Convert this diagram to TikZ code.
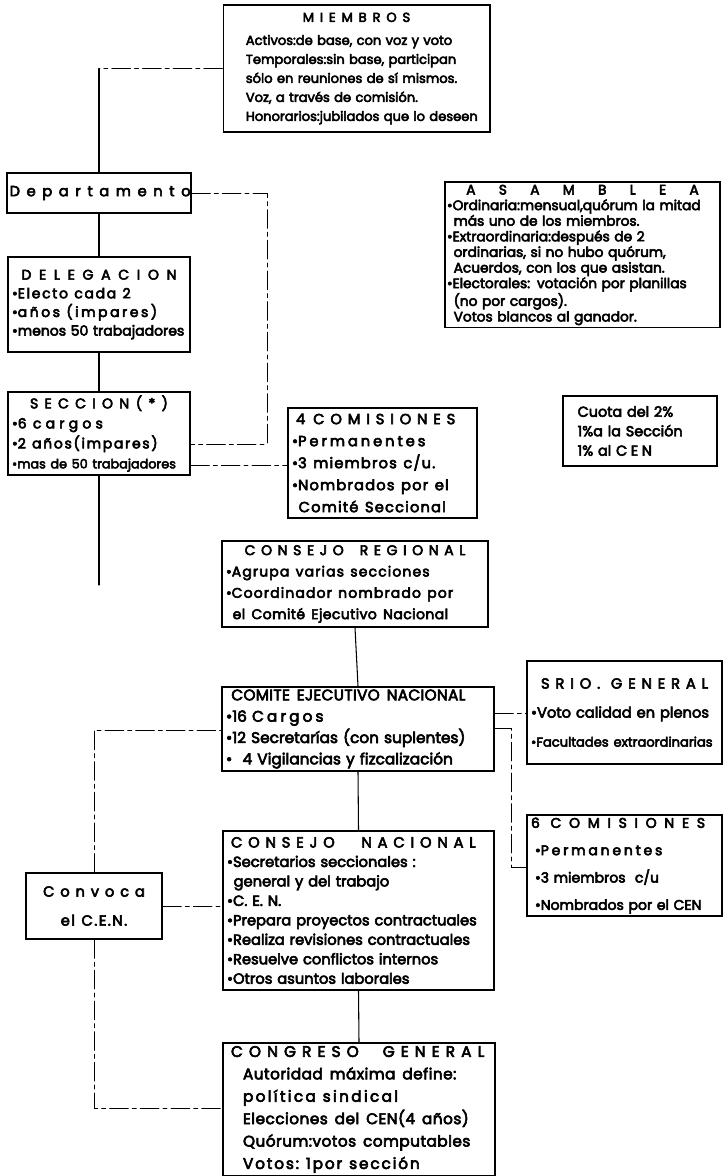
\documentclass[tikz,border=0pt]{standalone}
\usepackage{fontspec}
\setmainfont{Poppins}[FakeBold=4]
\usetikzlibrary{positioning}
\setlength\parindent{0pt}
\def\spend{}
\def\spword#1 #2\spend{#1\ifx\relax#2\relax\else\hspace{0.45em}\spword#2\spend\fi}
\newcommand\spaced[2]{{\addfontfeatures{LetterSpace=#1}\spword#2 \spend}}
\newcommand\boxtitle[2]{\makebox[\hsize][c]{\spaced{#1}{#2}}}
\newcommand\gap[1]{\kern#1}

\begin{document}
\begin{tikzpicture}[x=0.75pt, y=-0.75pt, line cap=round]
\tikzstyle{box}=[draw, rectangle, line width=1pt, inner xsep=3pt, inner ysep=2pt, align=left]
\tikzstyle{line}=[line width=0.8pt]
\tikzstyle{link}=[line width=0.6pt, dash pattern=on 14pt off 3pt on 3pt off 3pt]
\useasboundingbox (0,0) rectangle (725,1176);

\node[box, text width=194pt, minimum height=95.25pt, font=\fontsize{9.8}{14.25}\selectfont] (miem) at (356.5,68.5)
  {\boxtitle{45}{MIEMBROS}\\[3pt]
   \hspace*{14pt}Activos:de base, con voz y voto\\
   \hspace*{14pt}Temporales:sin base, participan\\
   \hspace*{14pt}sólo en reuniones de sí mismos.\\
   \hspace*{14pt}Voz, a través de comisión.\\
   \hspace*{14pt}Honorarios:jubilados que lo deseen};
\node[box, inner xsep=2pt, text width=134pt, minimum height=30pt, font=\fontsize{11}{13}\selectfont] (dep) at (99,193)
  {\spaced{45}{Departamento}};
\node[box, text width=130.5pt, minimum height=71.25pt, font=\fontsize{10.5}{14}\selectfont] (deleg) at (99,304.5)
  {\boxtitle{55}{DELEGACION}\\
   \textbullet\spaced{12}{Electo cada 2}\\
   \textbullet\spaced{18}{años (impares)}\\
   \textbullet menos 50 trabajadores};
\node[box, text width=130.5pt, minimum height=62.25pt, font=\fontsize{10.5}{15}\selectfont] (secc) at (99,433.5)
  {\boxtitle{45}{SECCION\gap{5pt}(*)}\\
   \textbullet\spaced{30}{6 cargos}\\
   \textbullet\spaced{12}{2 años(impares)}\\
   {\fontsize{9.6}{15}\selectfont\textbullet mas de 50 trabajadores}};
\node[box, text width=135.75pt, minimum height=82.5pt, font=\fontsize{11}{16.5}\selectfont] (com4) at (382.5,463)
  {\hspace*{3pt}\spaced{40}{4\gap{6pt}COMISIONES}\\
   \textbullet\spaced{20}{Permanentes}\\
   \textbullet\spaced{8}{3 miembros c/u.}\\
   \textbullet\spaced{8}{Nombrados por el}\\
   \hspace*{5pt}\spaced{8}{Comité Seccional}};
\node[box, inner xsep=1.5pt, text width=203.25pt, minimum height=108pt, font=\fontsize{10.3}{11.7}\selectfont] (asam) at (582.5,255)
  {\boxtitle{170}{ASAMBLEA}\\
   \mbox{\textbullet Ordinaria:mensual,quórum la mitad}\\
   \hspace*{5pt}más uno de los miembros.\\
   \textbullet Extraordinaria:después de 2\\
   \hspace*{5pt}ordinarias, si no hubo quórum,\\
   \hspace*{5pt}Acuerdos, con los que asistan.\\
   \mbox{\textbullet Electorales: votación por planillas}\\
   \hspace*{5pt}(no por cargos).\\
   \hspace*{5pt}Votos blancos al ganador.};
\node[box, text width=109.5pt, minimum height=52.5pt, font=\fontsize{10.8}{14.6}\selectfont] (cuota) at (640,431)
  {\hspace*{8pt}Cuota del 2\%\\
   \hspace*{8pt}1\%a la Sección\\
   \hspace*{8pt}1\% al \spaced{25}{CEN}};
\node[box, text width=193.5pt, minimum height=64.5pt, font=\fontsize{10.5}{16}\selectfont] (creg) at (355,584)
  {\boxtitle{40}{CONSEJO\gap{12pt}REGIONAL}\\
   \textbullet\spaced{8}{Agrupa varias secciones}\\
   \textbullet\spaced{8}{Coordinador nombrado por}\\
   \hspace*{5pt}\spaced{3}{el Comité Ejecutivo Nacional}};
\node[box, text width=198pt, minimum height=63pt, font=\fontsize{11.5}{16}\selectfont] (cen) at (358,729)
  {\hspace*{4pt}\spaced{2}{COMITE EJECUTIVO NACIONAL}\\
   \textbullet 16 \spaced{20}{Cargos}\\
   \textbullet 12 Secretarías (con suplentes)\\
   \textbullet\ \ 4 Vigilancias y fizcalización};
\node[box, text width=140.25pt, minimum height=77.25pt, font=\fontsize{11}{21.75}\selectfont] (srio) at (624.5,712.5)
  {\boxtitle{40}{SRIO.\gap{8pt}GENERAL}\\
   \textbullet Voto calidad en plenos\\
   {\fontsize{9.8}{21.75}\selectfont\textbullet Facultades extraordinarias}};
\node[box, text width=140.25pt, minimum height=75.75pt, font=\fontsize{10.5}{20.5}\selectfont] (com6) at (624.5,865.5)
  {\spaced{55}{6\gap{8pt}COMISIONES}\\
   \hspace*{3pt}\textbullet\spaced{20}{Permanentes}\\
   \hspace*{3pt}\textbullet 3 miembros\ \ c/u\\
   \hspace*{3pt}\textbullet Nombrados por el CEN};
\node[box, text width=197.25pt, minimum height=119.25pt, font=\fontsize{11}{14.6}\selectfont] (cnac) at (358.5,910.5)
  {\hspace*{3pt}\spaced{40}{CONSEJO\gap{20pt}NACIONAL}\\
   \textbullet Secretarios seccionales :\\
   \hspace*{5pt}general y del trabajo\\
   \textbullet C. E. N.\\
   \textbullet Prepara proyectos contractuales\\
   \textbullet Realiza revisiones contractuales\\
   \textbullet Resuelve conflictos internos\\
   \textbullet Otros asuntos laborales};
\node[box, align=center, text width=96pt, minimum height=49.5pt, font=\fontsize{11}{21.75}\selectfont] (conv) at (94,906)
  {\spaced{40}{Convoca}\\ \spaced{10}{el C.E.N.}};
\node[box, text width=198pt, minimum height=99.75pt, font=\fontsize{11.5}{16.8}\selectfont] (cong) at (359,1109.5)
  {\hspace*{3pt}\spaced{40}{CONGRESO\gap{18pt}GENERAL}\\
   \hspace*{12pt}\spaced{3}{Autoridad máxima define:}\\
   \hspace*{12pt}\spaced{15}{política sindical}\\
   \hspace*{12pt}\spaced{3}{Elecciones del CEN(4 años)}\\
   \hspace*{12pt}\spaced{3}{Quórum:votos computables}\\
   \hspace*{12pt}\spaced{12}{Votos: 1por sección}};

\coordinate (mturn) at (99,68.5);
\coordinate (secfree) at (99,585);
\coordinate (dsturn) at (267,444);
\coordinate (sclvl) at (240,465);
\coordinate (srlvl) at (510,713);
\coordinate (cstart) at (500,728);
\coordinate (cturn) at (511,867);
\coordinate (vturn) at (94,730);
\coordinate (gturn) at (94,1108);

\foreach \i/\j in {dep/deleg,deleg/secc,creg/cen,cen/cnac,cnac/cong}{\draw[line] (\i.south) -- (\j.north);}
\draw[link] (miem.west) -- (mturn);
\draw[line] (mturn) -- (dep.north);
\draw[line] (secc.south) -- (secfree);
\draw[link] (dep.east) -| (dsturn) -- (secc.east |- dsturn);
\draw[link] (secc.east |- sclvl) -- (com4.west |- sclvl);
\draw[link] (cen.east |- srlvl) -- (srio.west |- srlvl);
\draw[link] (cen.east |- cstart) -| (cturn) -- (com6.west |- cturn);
\draw[link] (conv.north) |- (cen.west |- vturn);
\draw[link] (conv.east) -- (conv.east -| cnac.west);
\draw[link] (conv.south) |- (cong.west |- gturn);
\end{tikzpicture}
\end{document}
